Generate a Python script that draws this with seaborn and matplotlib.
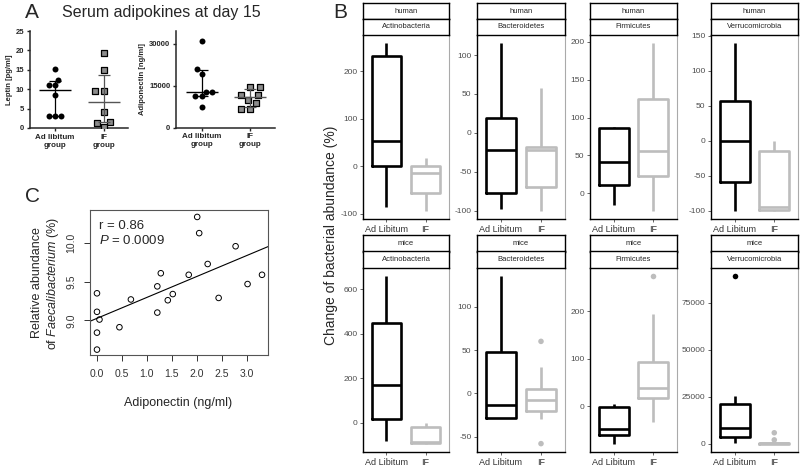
import numpy as np
import pandas as pd
import matplotlib
matplotlib.use('Agg')
import matplotlib.pyplot as plt
from matplotlib.ticker import MultipleLocator
import seaborn as sns

sns.set_style('ticks')
plt.rcParams['font.family'] = ['Liberation Sans', 'DejaVu Sans']
plt.rcParams['mathtext.fontset'] = 'custom'
plt.rcParams['mathtext.it'] = 'Liberation Sans:italic'
plt.rcParams['mathtext.rm'] = 'Liberation Sans'
plt.rcParams['axes.unicode_minus'] = False

# ---- Panel A: serum adipokines ----
groups_a = ['Ad libitum\ngroup', 'IF\ngroup']
leptin_al = [15.2, 12.4, 11.1, 11.1, 8.6, 3.0, 3.0, 3.0]
leptin_if = [19.4, 15.0, 9.6, 9.6, 4.0, 1.6, 1.4, 0.2]
adipo_al = [31000, 21000, 19400, 12900, 12800, 11300, 11200, 7500]
adipo_if = [14600, 14600, 11700, 11700, 9900, 8900, 6700, 6700]

# ---- Panel C: Faecalibacterium vs adiponectin ----
adiponectin_ng = [0.0, 0.0, 0.05, 0.0, 0.0, 0.45, 0.68, 1.21, 1.28, 1.21,
                  1.42, 1.52, 1.84, 2.22, 2.44, 3.02, 3.31, 2.01, 2.05, 2.78]
faecali = [9.35, 9.11, 9.01, 8.84, 8.62, 8.91, 9.27, 9.44, 9.61, 9.10,
           9.26, 9.34, 9.59, 9.73, 9.29, 9.47, 9.59, 10.34, 10.13, 9.96]

# ---- Panel B: change of bacterial abundance (min, q1, median, q3, max) ----
phyla = ['Actinobacteria', 'Bacteroidetes', 'Firmicutes', 'Verrucomicrobia']
diets = ['Ad Libitum', 'IF']
human_al = [[-85, 0, 53, 232, 258], [-98, -77, -22, 19, 115],
            [-15, 11, 41, 86, 88], [-100, -59, 0, 57, 139]]
human_if = [[-93, -56, -14, 0, 18], [-100, -70, -22, -18, 57],
            [-23, 23, 56, 125, 198], [-100, -99, -95, -15, 0]]
mice_al = [[-82, 15, 168, 447, 658], [-28, -28, -13, 48, 135],
           [-78, -60, -47, -2, 5], [600, 3500, 8400, 21300, 25300]]
mice_if = [[-94, -90, -86, -18, -3], [-29, -20, -8, 5, 31],
           [-32, 17, 38, 93, 195], [0, 0, 100, 300, 700]]
mice_al_out = [[], [], [], [89200]]
mice_if_out = [[], [60, -58], [273], [5800, 2000]]
human_out = [[], [], [], []]

tick_steps = {'human': [100, 50, 50, 50], 'mice': [200, 50, 100, 25000]}
pal = {'Ad Libitum': 'black', 'IF': '#bdbdbd'}

W, H = 800, 465
fig = plt.figure(figsize=(8, 4.65), dpi=100)


def box_at(x0, y0, x1, y1):
    return fig.add_axes([x0 / W, 1 - y1 / H, (x1 - x0) / W, (y1 - y0) / H])


# ================= Panel A =================
fig.text(25 / W, 1 - 13 / H, 'A', fontsize=15, va='center', ha='left')
fig.text(62 / W, 1 - 13 / H, 'Serum adipokines at day 15', fontsize=11.5,
         va='center', ha='left')


def adipokine_panel(ax, al, iff, ylim, yticks, ylabel, xlim):
    sns.swarmplot(x=[groups_a[0]] * len(al), y=al, order=groups_a,
                  color='black', size=4.3, ax=ax)
    sns.swarmplot(x=[groups_a[1]] * len(iff), y=iff, order=groups_a,
                  color='#8c8c8c', marker='s', size=5, edgecolor='black',
                  linewidth=0.9, ax=ax)
    for pos, vals, col in [(0, al, 'black'), (1, iff, '#555555')]:
        q1, med, q3 = np.percentile(vals, [25, 50, 75], method='weibull')
        ax.hlines(med, pos - 0.33, pos + 0.33, color=col, lw=1.0, zorder=5)
        ax.errorbar([pos], [med], yerr=[[med - q1], [q3 - med]], color=col,
                    lw=0.9, capsize=4, capthick=0.9, zorder=5)
    ax.set_xlim(*xlim)
    ax.set_ylim(*ylim)
    ax.set_yticks(yticks)
    ax.set_ylabel(ylabel, fontsize=5.5, fontweight='bold', labelpad=2)
    ax.set_xlabel('')
    ax.tick_params(labelsize=5.5, length=2.5, width=1.0, pad=1.5)
    for lab in ax.get_xticklabels() + ax.get_yticklabels():
        lab.set_fontweight('bold')
    ax.set_xticks([0, 1])
    ax.set_xticklabels(groups_a, fontsize=5.8, fontweight='bold')
    for sp in ['top', 'right']:
        ax.spines[sp].set_visible(False)
    for sp in ['left', 'bottom']:
        ax.spines[sp].set_linewidth(1.1)
    ax.patch.set_alpha(0)


ax_lep = box_at(30, 31, 128, 128)
adipokine_panel(ax_lep, leptin_al, leptin_if, (0, 25), [0, 5, 10, 15, 20, 25],
                'Leptin [pg/ml]', (-0.51, 1.49))
ax_adi = box_at(176, 31, 275, 127.6)
adipokine_panel(ax_adi, adipo_al, adipo_if, (0, 34660), [0, 15000, 30000],
                'Adiponectin [ng/ml]', (-0.53, 1.52))

# ================= Panel C =================
fig.text(25 / W, 1 - 196 / H, 'C', fontsize=15, va='center', ha='left')
ax_c = box_at(90, 210, 268, 355)
ax_c.set_xlim(-0.14, 3.43)
ax_c.set_ylim(8.55, 10.43)
sns.scatterplot(x=adiponectin_ng, y=faecali, ax=ax_c, marker='o', s=16,
                facecolor='none', edgecolor='black', linewidth=0.7)
sns.regplot(x=adiponectin_ng, y=faecali, ax=ax_c, scatter=False, ci=None,
            truncate=False, line_kws=dict(color='black', lw=0.8))
ax_c.set_xlim(-0.14, 3.43)
ax_c.set_ylim(8.55, 10.43)
ax_c.set_xticks(np.arange(0, 3.01, 0.5))
ax_c.set_xticklabels([f'{v:.1f}' for v in np.arange(0, 3.01, 0.5)])
ax_c.set_yticks([9.0, 9.5, 10.0])
ax_c.set_yticklabels(['9.0', '9.5', '10.0'], rotation=90, va='center')
ax_c.tick_params(labelsize=7.5, length=4, width=0.7, pad=6, colors='#333333')
for sp in ax_c.spines.values():
    sp.set_linewidth(0.8)
    sp.set_color('#555555')
ax_c.text(0.05, 0.89, 'r = 0.86', transform=ax_c.transAxes, fontsize=9.5,
          va='center')
ax_c.text(0.05, 0.79, '$P$ = 0.0009', transform=ax_c.transAxes, fontsize=9.5,
          va='center')
fig.text(46 / W, 1 - 283 / H,
         'Relative abundance\nof $\\it{Faecalibacterium}$ (%)',
         fontsize=9, rotation=90, ha='center', va='center',
         multialignment='center')
fig.text(178 / W, 1 - 403 / H, 'Adiponectin (ng/ml)', fontsize=9,
         ha='center', va='center')

# ================= Panel B =================
fig.text(333 / W, 1 - 13 / H, 'B', fontsize=15, va='center', ha='left')
fig.text(331 / W, 1 - 235 / H, 'Change of bacterial abundance (%)',
         fontsize=10, rotation=90, ha='center', va='center')

facet_x = [(363, 449), (477, 565), (590, 677), (711, 798)]
rows = [
    ('human', human_al, human_if, human_out, human_out, (3.3, 19, 35, 219)),
    ('mice', mice_al, mice_if, mice_al_out, mice_if_out, (235, 251.5, 268, 452)),
]

for host, al_stats, if_stats, al_out, if_out, (s0, s1, p0, p1) in rows:
    for i, phylum in enumerate(phyla):
        x0, x1 = facet_x[i]
        ax = box_at(x0, p0, x1, p1)
        df = pd.DataFrame({
            'diet': [diets[0]] * 5 + [diets[1]] * 5,
            'value': al_stats[i] + if_stats[i],
        })
        sns.boxplot(data=df, x='diet', y='value', hue='diet', order=diets,
                    hue_order=diets, palette=pal, fill=False, whis=np.inf,
                    width=0.75, linewidth=1.9, legend=False, ax=ax,
                    capprops=dict(visible=False))
        out = pd.DataFrame({
            'diet': [diets[0]] * len(al_out[i]) + [diets[1]] * len(if_out[i]),
            'value': al_out[i] + if_out[i],
        })
        if len(out):
            sns.stripplot(data=out, x='diet', y='value', hue='diet',
                          order=diets, hue_order=diets, palette=pal,
                          jitter=False, size=4, legend=False, ax=ax)
        allv = al_stats[i] + if_stats[i] + al_out[i] + if_out[i]
        lo, hi = min(allv), max(allv)
        pad = 0.05 * (hi - lo)
        ax.set_ylim(lo - pad, hi + pad)
        ax.set_xlim(-0.6, 1.6)
        ax.yaxis.set_major_locator(MultipleLocator(tick_steps[host][i]))
        ax.set_xlabel('')
        ax.set_ylabel('')
        ax.tick_params(axis='y', labelsize=6, colors='#4d4d4d', length=2.5,
                       width=0.6, pad=1.5)
        ax.tick_params(axis='x', labelsize=6.5, length=2.5, width=0.6,
                       pad=1.5, labelcolor='#333333', color='#4d4d4d')
        ax.spines['left'].set_color('black')
        ax.spines['bottom'].set_color('black')
        ax.spines['left'].set_linewidth(1.0)
        ax.spines['bottom'].set_linewidth(1.0)
        ax.spines['right'].set_color('#aaaaaa')
        ax.spines['right'].set_linewidth(0.8)
        ax.spines['top'].set_visible(False)

        for (a, b), label in [((s0, s1), host), ((s1, p0), phylum)]:
            sax = box_at(x0, a, x1, b)
            sax.set_xticks([])
            sax.set_yticks([])
            for sp in sax.spines.values():
                sp.set_linewidth(1.0)
                sp.set_color('black')
            sax.text(0.5, 0.5, label, fontsize=5.5, ha='center', va='center',
                     transform=sax.transAxes)

fig.savefig('out.png', dpi=100)
